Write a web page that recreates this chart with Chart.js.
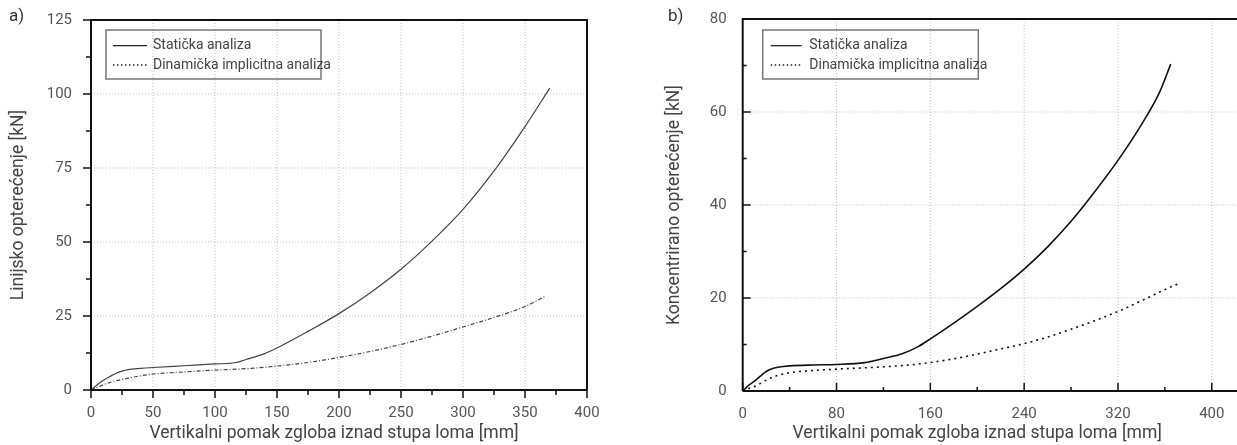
<!DOCTYPE html>
<html>
<head>
<meta charset="utf-8">
<script src="https://cdn.jsdelivr.net/npm/chart.js@4.4.1/dist/chart.umd.min.js"></script>
<style>
  body { margin: 0; background: #fff; }
  #wrap { position: relative; width: 1237px; height: 445px; }
  .box { position: absolute; top: 0; height: 445px; }
</style>
</head>
<body>
<div id="wrap">
  <div class="box" style="left:0;width:620px"><canvas id="chartA"></canvas></div>
  <div class="box" style="left:620px;width:617px"><canvas id="chartB"></canvas></div>
</div>
<script>
// a) linijsko opterećenje
const xStaticA = [0, 5, 10, 15, 20, 25, 30, 40, 50, 75, 100, 116, 125, 140, 150, 175, 200, 225, 250, 275, 300, 325, 350, 370];
const yStaticA = [0, 1.8, 3.3, 4.5, 5.6, 6.4, 6.9, 7.3, 7.6, 8.2, 8.8, 9.2, 10.3, 12.3, 14.2, 19.8, 25.8, 32.8, 40.8, 50.3, 61.0, 74.0, 89.0, 102.0];
const xDynA = [0, 5, 10, 15, 20, 30, 40, 50, 75, 100, 125, 150, 175, 200, 225, 250, 275, 300, 325, 350, 367];
const yDynA = [0, 0.9, 1.8, 2.5, 3.1, 4.0, 4.8, 5.4, 6.1, 6.7, 7.2, 8.1, 9.3, 11.0, 13.0, 15.4, 18.2, 21.3, 24.5, 28.2, 31.8];

// b) koncentrirano opterećenje
const xStaticB = [0, 5, 10, 15, 20, 25, 30, 40, 60, 80, 104, 120, 136, 150, 160, 180, 200, 220, 240, 260, 280, 300, 320, 340, 355, 365];
const yStaticB = [0, 1.2, 2.1, 3.2, 4.2, 4.8, 5.1, 5.4, 5.6, 5.7, 6.1, 7.0, 8.0, 9.6, 11.2, 14.6, 18.2, 22.0, 26.2, 31.0, 36.5, 42.8, 49.6, 57.3, 64.0, 70.3];
const xDynB = [0, 5, 12, 23, 37, 60, 80, 120, 150, 170, 190, 210, 240, 260, 280, 300, 320, 340, 360, 371];
const yDynB = [0, 0.5, 1.2, 2.7, 3.8, 4.4, 4.7, 5.2, 5.8, 6.5, 7.4, 8.5, 10.2, 11.6, 13.3, 15.1, 17.1, 19.4, 21.8, 23.0];

const seriesNames = ['Statička analiza', 'Dinamička implicitna analiza'];
const xTitle = 'Vertikalni pomak zgloba iznad stupa loma [mm]';

const FONT = "Roboto, 'Noto Sans', sans-serif";
Chart.defaults.font.family = FONT;
Chart.defaults.color = '#444';

const pts = (xs, ys) => xs.map((x, i) => ({ x, y: ys[i] }));

// grid, ticks, frame, legend, panel label
const decor = {
  id: 'decor',
  beforeDatasetsDraw(chart, args, o) {
    const { ctx, chartArea: a, scales: { x, y } } = chart;
    ctx.save();
    ctx.strokeStyle = '#bbb';
    ctx.lineWidth = 1;
    ctx.setLineDash([1, 2]);
    x.ticks.forEach(t => {
      const px = x.getPixelForValue(t.value);
      if (px <= a.left + 1 || px >= a.right - 1) return;
      ctx.beginPath(); ctx.moveTo(px, a.top); ctx.lineTo(px, a.bottom); ctx.stroke();
    });
    y.ticks.forEach(t => {
      const py = y.getPixelForValue(t.value);
      if (py <= a.top + 1 || py >= a.bottom - 1) return;
      ctx.beginPath(); ctx.moveTo(a.left, py); ctx.lineTo(a.right, py); ctx.stroke();
    });
    ctx.restore();
  },
  afterDraw(chart, args, o) {
    const { ctx, chartArea: a, scales: { x, y } } = chart;
    ctx.save();
    ctx.strokeStyle = '#111';
    ctx.lineWidth = 2;
    ctx.beginPath();
    ctx.moveTo(a.left, a.bottom); ctx.lineTo(a.right, a.bottom);
    ctx.moveTo(a.left, a.bottom); ctx.lineTo(a.left, a.top); ctx.lineTo(a.right, a.top);
    if (o.rightBorder) ctx.lineTo(a.right, a.bottom);
    ctx.stroke();

    // major and minor ticks
    const dir = o.inside ? -1 : 1;
    ctx.lineWidth = 1.5;
    const xt = x.ticks.map(t => t.value), yt = y.ticks.map(t => t.value);
    const tick = (vals, len, horiz) => vals.forEach(v => {
      ctx.beginPath();
      if (horiz) {
        const px = x.getPixelForValue(v);
        ctx.moveTo(px, a.bottom); ctx.lineTo(px, a.bottom + dir * len);
      } else {
        const py = y.getPixelForValue(v);
        ctx.moveTo(a.left, py); ctx.lineTo(a.left - dir * len, py);
      }
      ctx.stroke();
    });
    const minors = vals => vals.slice(1).map((v, i) => (v + vals[i]) / 2);
    tick(xt, o.majorLen, true); tick(minors(xt), o.minorLen, true);
    tick(yt, o.majorLen, false); tick(minors(yt), o.minorLen, false);

    // legend
    const L = o.legend;
    ctx.strokeStyle = '#777';
    ctx.lineWidth = 1.5;
    ctx.strokeRect(L.x, L.y, L.w, L.h);
    ctx.font = '14px ' + FONT;
    ctx.fillStyle = '#444';
    ctx.textBaseline = 'middle';
    chart.data.datasets.forEach((ds, i) => {
      const ry = L.y + 15.7 + i * 19.3;
      ctx.strokeStyle = '#222';
      ctx.lineWidth = 1.3;
      ctx.setLineDash(i === 0 ? [] : [1.5, 2.5]);
      ctx.beginPath(); ctx.moveTo(L.sx, ry); ctx.lineTo(L.sx + L.sw, ry); ctx.stroke();
      ctx.setLineDash([]);
      ctx.fillText(ds.label, L.tx, ry);
    });

    // x title and panel label
    ctx.font = '17.5px ' + FONT;
    ctx.textAlign = 'center';
    ctx.fillText(xTitle, x.getPixelForValue(o.titleCenter), 434);
    ctx.font = '17px ' + FONT;
    ctx.textAlign = 'left';
    ctx.fillStyle = '#333';
    ctx.fillText(o.panel, o.panelX, 17);
    ctx.restore();
  }
};

function makeChart(id, cfg) {
  return new Chart(document.getElementById(id), {
    type: 'scatter',
    data: {
      datasets: [
        { label: seriesNames[0], data: cfg.s, showLine: true, pointRadius: 0,
          borderColor: cfg.color, borderWidth: cfg.lw, cubicInterpolationMode: 'monotone' },
        { label: seriesNames[1], data: cfg.d, showLine: true, pointRadius: 0,
          borderColor: cfg.color, borderWidth: cfg.lw, borderDash: cfg.dash, cubicInterpolationMode: 'monotone' },
      ],
    },
    options: {
      responsive: true,
      maintainAspectRatio: false,
      animation: false,
      layout: { padding: { top: 19, right: cfg.padRight, left: 0, bottom: 0 } },
      scales: {
        x: {
          type: 'linear', min: 0, max: cfg.xMax,
          grid: { display: false }, border: { display: false },
          ticks: { stepSize: cfg.xStep, padding: 6, includeBounds: false, font: { size: 15 }, color: '#555' },
          afterFit: s => { s.height = cfg.xHeight; },
        },
        y: {
          min: 0, max: cfg.yMax,
          grid: { display: false }, border: { display: false },
          ticks: { stepSize: cfg.yStep, padding: cfg.yPad, font: { size: 15 }, color: '#555' },
          title: { display: true, text: cfg.yTitle, font: { size: 17.5 }, color: '#444', padding: { top: cfg.yTitlePad, bottom: 0 } },
          afterFit: s => { s.width = cfg.yWidth; },
        },
      },
      plugins: {
        legend: { display: false },
        tooltip: { enabled: false },
        decor: cfg.decor,
      },
    },
    plugins: [decor],
  });
}

makeChart('chartA', {
  s: pts(xStaticA, yStaticA), d: pts(xDynA, yDynA),
  color: '#444', lw: 1.2, dash: [4, 2, 1, 2],
  padRight: 33, xMax: 400, xStep: 50, yMax: 125, yStep: 25,
  xHeight: 55, yWidth: 91, yPad: 11, yTitlePad: 8,
  yTitle: 'Linijsko opterećenje [kN]',
  decor: {
    rightBorder: true, inside: false, majorLen: 8, minorLen: 5,
    titleCenter: 196, panel: 'a)', panelX: 9,
    legend: { x: 106, y: 30, w: 215, h: 49, sx: 113, sw: 34, tx: 153 },
  },
});

makeChart('chartB', {
  s: pts(xStaticB, yStaticB), d: pts(xDynB, yDynB),
  color: '#111', lw: 1.6, dash: [2, 4],
  padRight: 0, xMax: 421.5, xStep: 80, yMax: 80, yStep: 20,
  xHeight: 54, yWidth: 122.7, yPad: 8, yTitlePad: 44,
  yTitle: 'Koncentrirano opterećenje [kN]',
  decor: {
    rightBorder: false, inside: true, majorLen: 8, minorLen: 4,
    titleCenter: 200, panel: 'b)', panelX: 48,
    legend: { x: 142.7, y: 30, w: 215.6, h: 49, sx: 150.7, sw: 31, tx: 189.3 },
  },
});
</script>
</body>
</html>
